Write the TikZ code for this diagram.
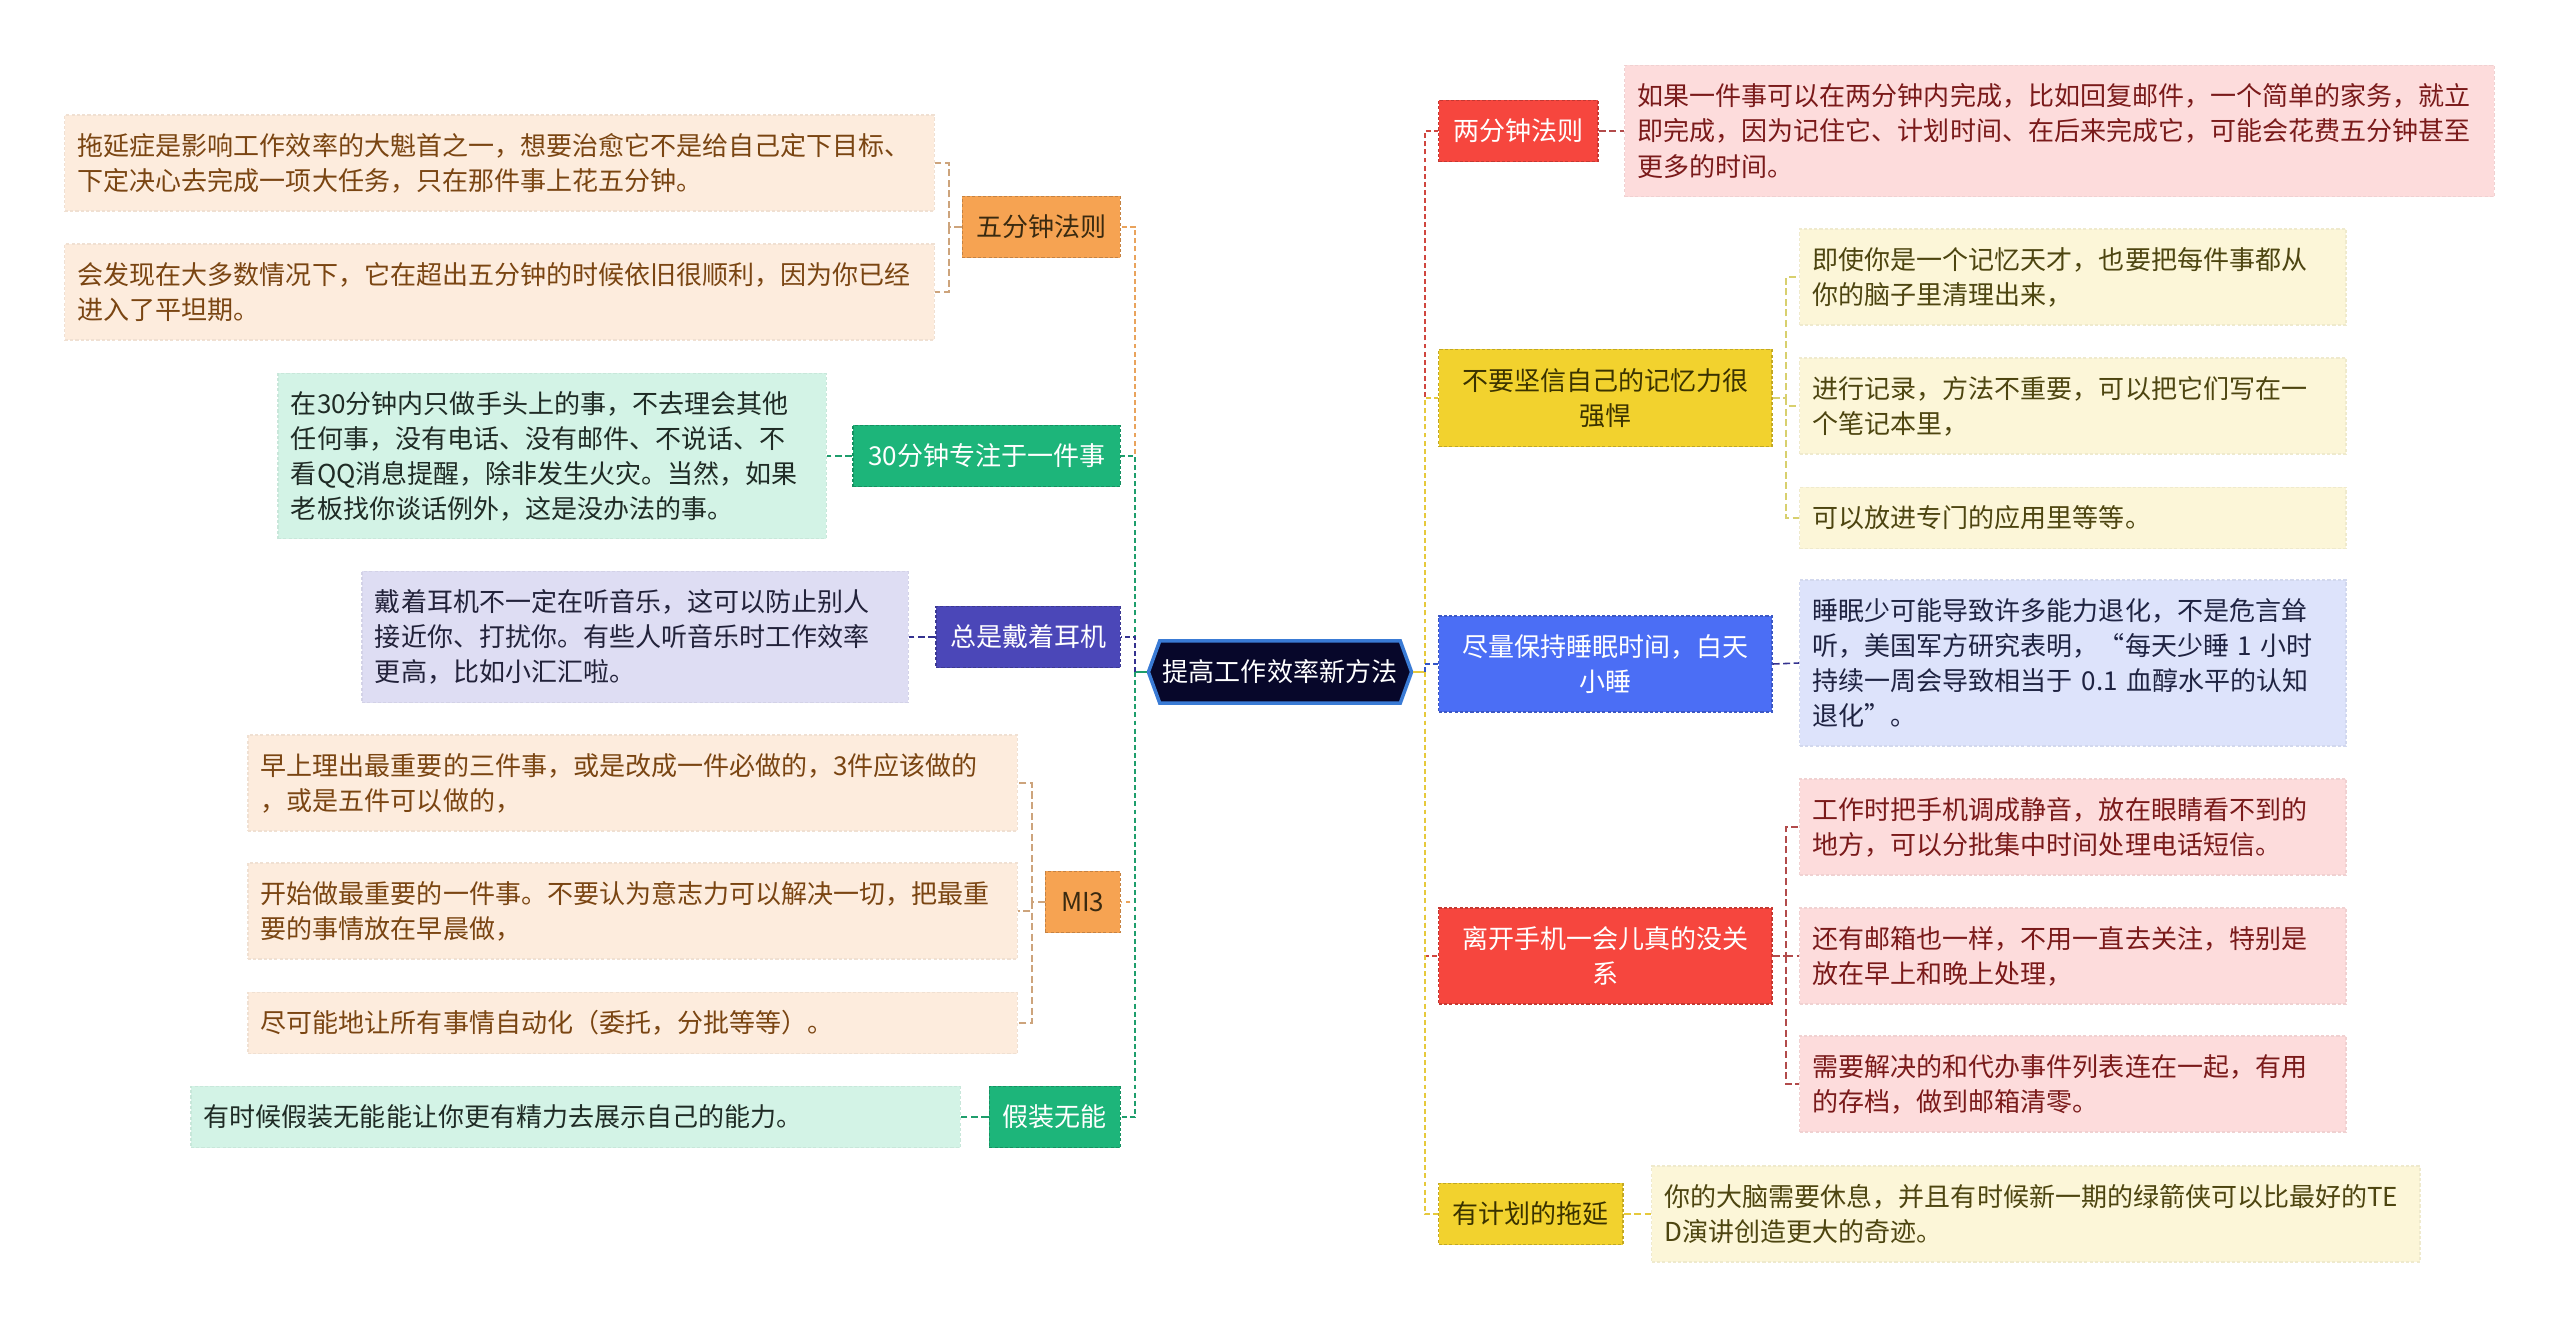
\documentclass[tikz,border=0pt]{standalone}
\usepackage{fontspec}
\setmainfont{Noto Sans CJK SC}
\usetikzlibrary{shapes.symbols}

\definecolor{orangemain}{HTML}{F6A352}
\definecolor{orangeleaf}{HTML}{FDECDD}
\definecolor{orangetext}{HTML}{7A4512}
\definecolor{orangedark}{HTML}{3A2A10}
\definecolor{orangeline}{HTML}{E9A35C}
\definecolor{orangetwig}{HTML}{CDA47C}
\definecolor{greenmain}{HTML}{1DB57A}
\definecolor{greenleaf}{HTML}{D3F3E6}
\definecolor{greentext}{HTML}{1F2B25}
\definecolor{greenline}{HTML}{1E9E6C}
\definecolor{indigomain}{HTML}{4B47B8}
\definecolor{indigoleaf}{HTML}{DEDDF3}
\definecolor{indigotext}{HTML}{22223A}
\definecolor{indigoline}{HTML}{34328F}
\definecolor{redmain}{HTML}{F6463E}
\definecolor{redleaf}{HTML}{FDDCDC}
\definecolor{redtext}{HTML}{7A1A1A}
\definecolor{redline}{HTML}{D0463F}
\definecolor{redtwig}{HTML}{B24B4B}
\definecolor{yellowmain}{HTML}{F2D22E}
\definecolor{yellowleaf}{HTML}{FCF6D8}
\definecolor{yellowtext}{HTML}{4D4510}
\definecolor{yellowdark}{HTML}{3A3200}
\definecolor{yellowline}{HTML}{E6C93C}
\definecolor{yellowtwig}{HTML}{D8D06E}
\definecolor{bluemain}{HTML}{4B6EF5}
\definecolor{blueleaf}{HTML}{DDE3FB}
\definecolor{bluetext}{HTML}{1F2342}
\definecolor{blueline}{HTML}{3355C8}
\definecolor{hubfill}{HTML}{07072A}
\definecolor{hubline}{HTML}{3A7BD5}

\begin{document}
\begin{tikzpicture}[
  x=0.01cm, y=-0.01cm,
  font=\fontsize{7.4pt}{9.96pt}\selectfont,
  box/.style={rectangle, inner xsep=0.13cm, inner ysep=0pt,
    line width=0.4pt, dash pattern=on 0.9pt off 0.6pt},
  topic/.style={box, minimum height=0.61cm, align=center},
  leaf/.style={box, minimum height=0.96cm, align=left},
  hubstub/.style={line width=0.8pt},
  trunk/.style={line width=0.7pt, dash pattern=on 1.4pt off 0.9pt},
  twig/.style={line width=0.45pt, dash pattern=on 2pt off 1pt},
]
\useasboundingbox (0,0) rectangle (2560,1327);

% Central topic
\node[signal, signal to=west and east, signal pointer angle=140,
      fill=hubfill, draw=hubline, line width=1pt, text=white,
      minimum width=2.63cm, minimum height=0.62cm, inner sep=0pt] (hub) at (1280,672)
  {提高工作效率新方法};

% Left topics
\node[topic, fill=orangemain, draw=orangemain!80!black, text=orangedark,
      minimum width=1.58cm, anchor=east] (five) at (1121,227) {五分钟法则};
\node[topic, fill=greenmain, draw=greenmain!80!black, text=white,
      minimum width=2.67cm, anchor=east] (focus) at (1121,456) {30分钟专注于一件事};
\node[topic, fill=indigomain, draw=indigomain!80!black, text=white,
      minimum width=1.84cm, anchor=east] (phones) at (1121,637) {总是戴着耳机};
\node[topic, fill=orangemain, draw=orangemain!80!black, text=orangedark,
      minimum width=0.75cm, anchor=east] (mit) at (1121,902) {MI3};
\node[topic, fill=greenmain, draw=greenmain!80!black, text=white,
      minimum width=1.31cm, anchor=east] (fake) at (1121,1117) {假装无能};

% Right topics
\node[topic, fill=redmain, draw=redmain!80!black, text=white,
      minimum width=1.59cm, anchor=west] (twomin) at (1438,131) {两分钟法则};
\node[topic, fill=yellowmain, draw=yellowmain!80!black, text=yellowdark,
      text width=3.07cm, minimum height=0.97cm, anchor=west] (memory) at (1438,398)
  {不要坚信自己的记忆力很\\强悍};
\node[topic, fill=bluemain, draw=bluemain!80!black, text=white,
      text width=3.07cm, minimum height=0.96cm, anchor=west] (sleep) at (1438,664)
  {尽量保持睡眠时间，白天\\小睡};
\node[topic, fill=redmain, draw=redmain!80!black, text=white,
      text width=3.07cm, minimum height=0.96cm, anchor=west] (phone) at (1438,956)
  {离开手机一会儿真的没关\\系};
\node[topic, fill=yellowmain, draw=yellowmain!80!black, text=yellowdark,
      minimum width=1.84cm, anchor=west] (plan) at (1438,1214) {有计划的拖延};

% Left leaves
\node[leaf, fill=orangeleaf, draw=orangeleaf!95!black, text=orangetext,
      text width=8.43cm, anchor=east] (fiveA) at (935,163)
  {拖延症是影响工作效率的大魁首之一，想要治愈它不是给自己定下目标、\\下定决心去完成一项大任务，只在那件事上花五分钟。};
\node[leaf, fill=orangeleaf, draw=orangeleaf!95!black, text=orangetext,
      text width=8.43cm, anchor=east] (fiveB) at (935,292)
  {会发现在大多数情况下，它在超出五分钟的时候依旧很顺利，因为你已经\\进入了平坦期。};
\node[leaf, fill=greenleaf, draw=greenleaf!95!black, text=greentext,
      text width=5.22cm, minimum height=1.65cm, anchor=east] (focusA) at (827,456)
  {在30分钟内只做手头上的事，不去理会其他\\任何事，没有电话、没有邮件、不说话、不\\看QQ消息提醒，除非发生火灾。当然，如果\\老板找你谈话例外，这是没办法的事。};
\node[leaf, fill=indigoleaf, draw=indigoleaf!95!black, text=indigotext,
      text width=5.2cm, minimum height=1.31cm, anchor=east] (phonesA) at (909,637)
  {戴着耳机不一定在听音乐，这可以防止别人\\接近你、打扰你。有些人听音乐时工作效率\\更高，比如小汇汇啦。};
\node[leaf, fill=orangeleaf, draw=orangeleaf!95!black, text=orangetext,
      text width=7.43cm, anchor=east] (mitA) at (1018,783)
  {早上理出最重要的三件事，或是改成一件必做的，3件应该做的\\，或是五件可以做的，};
\node[leaf, fill=orangeleaf, draw=orangeleaf!95!black, text=orangetext,
      text width=7.43cm, anchor=east] (mitB) at (1018,911)
  {开始做最重要的一件事。不要认为意志力可以解决一切，把最重\\要的事情放在早晨做，};
\node[leaf, fill=orangeleaf, draw=orangeleaf!95!black, text=orangetext,
      text width=7.43cm, minimum height=0.61cm, anchor=east] (mitC) at (1018,1023)
  {尽可能地让所有事情自动化（委托，分批等等）。};
\node[leaf, fill=greenleaf, draw=greenleaf!95!black, text=greentext,
      text width=7.43cm, minimum height=0.61cm, anchor=east] (fakeA) at (961,1117)
  {有时候假装无能能让你更有精力去展示自己的能力。};

% Right leaves
\node[leaf, fill=redleaf, draw=redleaf!95!black, text=redtext,
      text width=8.43cm, minimum height=1.31cm, anchor=west] (twominA) at (1624,131)
  {如果一件事可以在两分钟内完成，比如回复邮件，一个简单的家务，就立\\即完成，因为记住它、计划时间、在后来完成它，可能会花费五分钟甚至\\更多的时间。};
\node[leaf, fill=yellowleaf, draw=yellowleaf!95!black, text=yellowtext,
      text width=5.2cm, anchor=west] (memoryA) at (1799,277)
  {即使你是一个记忆天才，也要把每件事都从\\你的脑子里清理出来，};
\node[leaf, fill=yellowleaf, draw=yellowleaf!95!black, text=yellowtext,
      text width=5.2cm, anchor=west] (memoryB) at (1799,406)
  {进行记录，方法不重要，可以把它们写在一\\个笔记本里，};
\node[leaf, fill=yellowleaf, draw=yellowleaf!95!black, text=yellowtext,
      text width=5.2cm, minimum height=0.61cm, anchor=west] (memoryC) at (1799,518)
  {可以放进专门的应用里等等。};
\node[leaf, fill=blueleaf, draw=blueleaf!95!black, text=bluetext,
      text width=5.2cm, minimum height=1.66cm, anchor=west] (sleepA) at (1799,663)
  {睡眠少可能导致许多能力退化，不是危言耸\\听，美国军方研究表明，“每天少睡 1 小时\\持续一周会导致相当于 0.1 血醇水平的认知\\退化”。};
\node[leaf, fill=redleaf, draw=redleaf!95!black, text=redtext,
      text width=5.2cm, anchor=west] (phoneA) at (1799,827)
  {工作时把手机调成静音，放在眼睛看不到的\\地方，可以分批集中时间处理电话短信。};
\node[leaf, fill=redleaf, draw=redleaf!95!black, text=redtext,
      text width=5.2cm, anchor=west] (phoneB) at (1799,956)
  {还有邮箱也一样，不用一直去关注，特别是\\放在早上和晚上处理，};
\node[leaf, fill=redleaf, draw=redleaf!95!black, text=redtext,
      text width=5.2cm, anchor=west] (phoneC) at (1799,1084)
  {需要解决的和代办事件列表连在一起，有用\\的存档，做到邮箱清零。};
\node[leaf, fill=yellowleaf, draw=yellowleaf!95!black, text=yellowtext,
      text width=7.42cm, anchor=west] (planA) at (1651,1214)
  {你的大脑需要休息，并且有时候新一期的绿箭侠可以比最好的TE\\D演讲创造更大的奇迹。};

% Junctions
\coordinate (lt) at (1135,672);
\coordinate (rt) at (1425,672);
\coordinate (fiveJ) at (949,227);
\coordinate (mitJ) at (1032,902);
\coordinate (memoryJ) at (1786,398);
\coordinate (phoneJ) at (1786,956);

% Hub to trunks
\draw[hubstub, greenline] (hub.west) -- (lt);
\draw[hubstub, yellowline] (hub.east) -- (rt);

% Left branches, top to bottom
\draw[trunk, orangeline] (lt) |- (five.east);
\draw[trunk, greenline] (lt) |- (focus.east);
\draw[trunk, indigoline] (lt) |- (phones.east);
\draw[trunk, orangeline] (lt) |- (mit.east);
\draw[trunk, greenline] (lt) |- (fake.east);

% Right branches, top to bottom
\draw[trunk, redline] (rt) |- (twomin.west);
\draw[trunk, yellowline] (rt) |- (memory.west);
\draw[trunk, blueline] (rt) |- (sleep.west);
\draw[trunk, redline] (rt) |- (phone.west);
\draw[trunk, yellowline] (rt) |- (plan.west);

% Twigs to leaves
\draw[twig, orangetwig] (five.west) -- (fiveJ) |- (fiveA.east);
\draw[twig, orangetwig] (fiveJ) |- (fiveB.east);
\draw[twig, greenline] (focus.west) -- (focusA.east);
\draw[twig, indigoline] (phones.west) -- (phonesA.east);
\draw[twig, orangetwig] (mit.west) -- (mitJ) |- (mitA.east);
\draw[twig, orangetwig] (mitJ) |- (mitB.east);
\draw[twig, orangetwig] (mitJ) |- (mitC.east);
\draw[twig, greenline] (fake.west) -- (fakeA.east);
\draw[twig, redtwig] (twomin.east) -- (twominA.west);
\draw[twig, yellowtwig] (memory.east) -- (memoryJ) |- (memoryA.west);
\draw[twig, yellowtwig] (memoryJ) |- (memoryB.west);
\draw[twig, yellowtwig] (memoryJ) |- (memoryC.west);
\draw[twig, indigoline] (sleep.east) -- (sleepA.west);
\draw[twig, redtwig] (phone.east) -- (phoneJ) |- (phoneA.west);
\draw[twig, redtwig] (phoneJ) |- (phoneB.west);
\draw[twig, redtwig] (phoneJ) |- (phoneC.west);
\draw[twig, yellowline] (plan.east) -- (planA.west);

\end{tikzpicture}
\end{document}
